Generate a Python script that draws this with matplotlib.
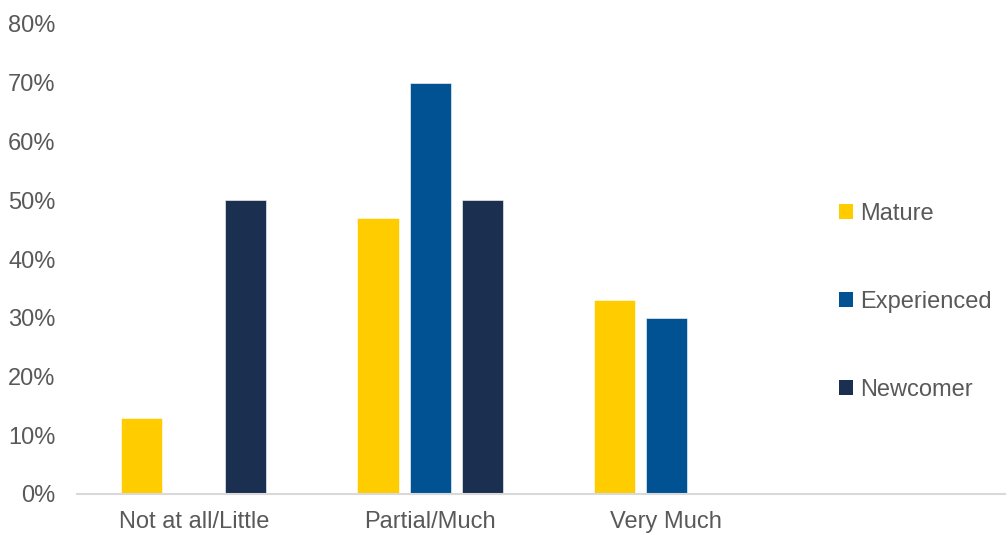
import numpy as np
import matplotlib.pyplot as plt
from matplotlib.patches import Patch
from matplotlib.ticker import FuncFormatter

plt.rcParams['font.family'] = ['Liberation Sans', 'DejaVu Sans']

categories = ['Not at all/Little', 'Partial/Much', 'Very Much']
series = ['Mature', 'Experienced', 'Newcomer']
mature = [13, 47, 33]
experienced = [0, 70, 30]
newcomer = [50, 50, 0]
colors = ['#FFCC00', '#005293', '#1B2F50']

fig = plt.figure(figsize=(10.08, 5.35), dpi=100)
ax = fig.add_axes([77 / 1008, 41 / 535, 928 / 1008, 470 / 535])

x = np.arange(len(categories))
step = 52 / 236
width = 41 / 236
for i, (vals, c) in enumerate(zip([mature, experienced, newcomer], colors)):
    ax.bar(x + (i - 1) * step, vals, width, color=c, edgecolor='white', linewidth=0.4)

ax.set_xlim(-0.495, 3.435)
ax.set_ylim(0, 80)
ax.set_yticks(np.arange(0, 81, 10))
ax.yaxis.set_major_formatter(FuncFormatter(lambda v, p: f'{v:.0f}%'))
ax.set_xticks(x)
ax.set_xticklabels(categories)
ax.tick_params(axis='both', length=0, labelsize=17, labelcolor='#595959')
ax.tick_params(axis='y', pad=15.5)
ax.tick_params(axis='x', pad=12)
for s in ['top', 'right', 'left']:
    ax.spines[s].set_visible(False)
ax.spines['bottom'].set_color('#D9D9D9')
ax.spines['bottom'].set_linewidth(1.5)

handles = [Patch(facecolor=c, label=s) for s, c in zip(series, colors)]
leg = ax.legend(handles=handles, loc='center left', bbox_to_anchor=((818 - 77) / 928, (494 - 302) / 470),
                frameon=False, fontsize=17, labelspacing=2.8, handlelength=0.6, handleheight=0.6,
                handletextpad=0.3, labelcolor='#595959')

fig.savefig('out.png', dpi=100)
